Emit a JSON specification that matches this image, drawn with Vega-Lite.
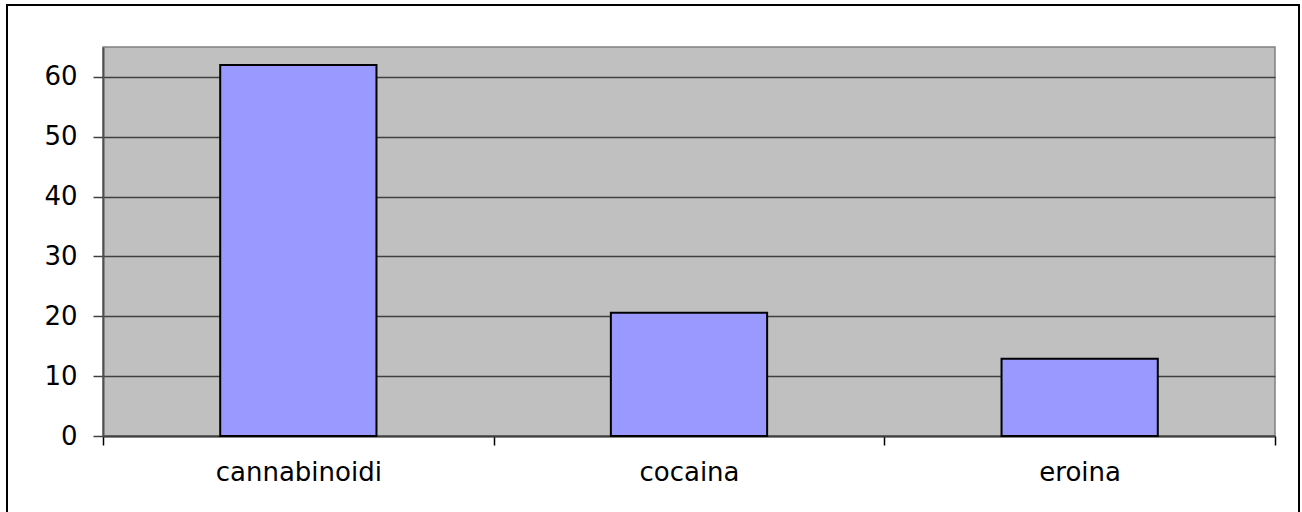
{
  "$schema": "https://vega.github.io/schema/vega-lite/v6.json",
  "width": 1172,
  "height": 389,
  "autosize": {"type": "none"},
  "padding": {"left": 103, "top": 47, "right": 27, "bottom": 76},
  "background": "white",
  "config": {
    "view": {"fill": "#C0C0C0", "stroke": "#808080", "strokeWidth": 1.5},
    "axis": {"labelFont": "DejaVu Sans", "labelFontSize": 26, "labelColor": "black"}
  },
  "data": {"values": [
    {"sostanza": "cannabinoidi", "valore": 62.0},
    {"sostanza": "cocaina", "valore": 20.6},
    {"sostanza": "eroina", "valore": 12.9}
  ]},
  "layer": [
    {
      "mark": {"type": "rect", "fill": null, "stroke": "black", "strokeWidth": 2, "clip": false},
      "encoding": {
        "x": {"value": -96},
        "x2": {"value": 1196},
        "y": {"value": -42},
        "y2": {"value": 470}
      }
    },
    {
      "mark": {"type": "bar", "fill": "#9999FF", "stroke": "black", "strokeWidth": 2, "width": {"band": 0.4}},
      "encoding": {
        "x": {
          "field": "sostanza", "type": "nominal", "sort": null,
          "scale": {"paddingInner": 0, "paddingOuter": 0},
          "axis": {
            "title": null, "labelAngle": 0, "tickBand": "extent",
            "tickSize": 9, "tickColor": "black", "tickWidth": 1.5,
            "domainColor": "#404040", "domainWidth": 2,
            "labelPadding": 14, "grid": false
          }
        },
        "y": {
          "field": "valore", "type": "quantitative",
          "scale": {"domain": [0, 65], "nice": false},
          "axis": {
            "title": null, "values": [0, 10, 20, 30, 40, 50, 60],
            "tickSize": 10, "tickColor": "#404040", "tickWidth": 1.5,
            "domainColor": "#505050", "domainWidth": 2,
            "labelPadding": 16, "grid": true, "gridColor": "#404040", "gridWidth": 1.5
          }
        }
      }
    }
  ]
}
